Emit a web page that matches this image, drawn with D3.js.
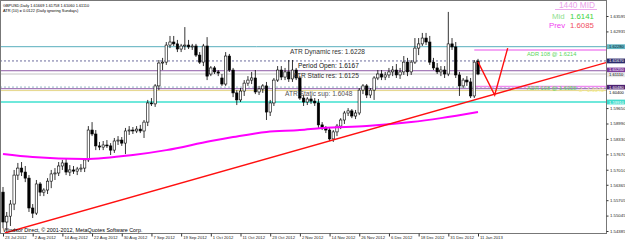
<!DOCTYPE html>
<html>
<head>
<meta charset="utf-8">
<script src="https://cdn.jsdelivr.net/npm/d3@7"></script>
<style>
  body { margin: 0; background: #fff; }
  svg { display: block; font-family: "Liberation Sans", Arial, sans-serif; }
</style>
</head>
<body>
<div id="chart"></div>
<script>
// daily GBPUSD bars, 23 Jul 2012 .. 11 Jan 2013
const opens = [1.5605,1.5477,1.5502,1.5554,1.5678,1.5708,1.5691,1.5665,1.5537,1.5515,
  1.5640,1.5605,1.5614,1.5652,1.5683,1.5687,1.5717,1.5730,1.5691,1.5700,
  1.5695,1.5704,1.5708,1.5743,1.5871,1.5854,1.5803,1.5798,1.5807,1.5803,
  1.5785,1.5824,1.5828,1.5815,1.5867,1.5871,1.5867,1.5875,1.5867,1.5905,
  1.5987,1.5983,1.6060,1.6158,1.6162,1.6235,1.6248,1.6240,1.6218,1.6231,
  1.6235,1.6227,1.6231,1.6192,1.6162,1.6231,1.6111,1.6137,1.6120,1.6094,
  1.6068,1.6188,1.6128,1.6030,1.6000,1.6038,1.6072,1.6085,1.6094,1.6034,
  1.6047,1.6060,1.5948,1.5987,1.6085,1.6128,1.6098,1.6120,1.6090,1.6128,
  1.6094,1.6008,1.5991,1.6004,1.5995,1.5987,1.5893,1.5880,1.5871,1.5833,
  1.5863,1.5888,1.5914,1.5944,1.5953,1.5931,1.5944,1.6042,1.6060,1.6021,
  1.6042,1.6094,1.6111,1.6098,1.6107,1.6120,1.6128,1.6107,1.6120,1.6162,
  1.6120,1.6162,1.6222,1.6240,1.6265,1.6248,1.6162,1.6137,1.6120,1.6128,
  1.6111,1.6240,1.6227,1.6107,1.6060,1.6085,1.6077,1.6017,1.61669];
const highs = [1.5627,1.5520,1.5571,1.5700,1.5730,1.5734,1.5717,1.5678,1.5554,1.5657,
  1.5648,1.5622,1.5665,1.5700,1.5708,1.5734,1.5743,1.5751,1.5721,1.5717,
  1.5713,1.5725,1.5751,1.5888,1.5905,1.5871,1.5820,1.5824,1.5828,1.5815,
  1.5837,1.5845,1.5841,1.5880,1.5888,1.5884,1.5888,1.5893,1.5914,1.6000,
  1.6008,1.6068,1.6171,1.6180,1.6248,1.6274,1.6274,1.6257,1.6240,1.6312,
  1.6257,1.6240,1.6240,1.6205,1.6240,1.6269,1.6145,1.6145,1.6128,1.6111,
  1.6205,1.6197,1.6137,1.6042,1.6051,1.6085,1.6102,1.6120,1.6128,1.6060,
  1.6068,1.6077,1.6000,1.6094,1.6145,1.6145,1.6137,1.6171,1.6171,1.6137,
  1.6102,1.6021,1.6012,1.6017,1.6008,1.6004,1.5905,1.5888,1.5880,1.5871,
  1.5897,1.5922,1.5953,1.5965,1.5961,1.5957,1.6051,1.6068,1.6068,1.6051,
  1.6102,1.6128,1.6128,1.6120,1.6137,1.6145,1.6154,1.6137,1.6188,1.6180,
  1.6171,1.6265,1.6265,1.6287,1.6287,1.6274,1.6180,1.6158,1.6145,1.6145,
  1.6377,1.6265,1.6248,1.6120,1.6094,1.6102,1.6094,1.6171,1.61758];
const lows = [1.5451,1.5443,1.5460,1.5528,1.5657,1.5674,1.5648,1.5520,1.5494,1.5507,
  1.5588,1.5588,1.5597,1.5622,1.5657,1.5674,1.5700,1.5678,1.5674,1.5683,
  1.5678,1.5691,1.5691,1.5734,1.5845,1.5785,1.5785,1.5785,1.5794,1.5764,
  1.5773,1.5807,1.5803,1.5768,1.5850,1.5854,1.5858,1.5858,1.5837,1.5888,
  1.5974,1.5970,1.6042,1.6128,1.6150,1.6222,1.6231,1.6205,1.6205,1.6214,
  1.6218,1.6214,1.6184,1.6154,1.6145,1.6085,1.6102,1.6111,1.6102,1.6060,
  1.6060,1.6120,1.6012,1.5978,1.5991,1.6017,1.6060,1.6068,1.6025,1.6021,
  1.6030,1.5914,1.5931,1.5974,1.6077,1.6085,1.6085,1.6077,1.6077,1.6085,
  1.6000,1.5974,1.5978,1.5983,1.5974,1.5880,1.5871,1.5858,1.5824,1.5820,
  1.5845,1.5875,1.5897,1.5931,1.5922,1.5918,1.5935,1.6025,1.6008,1.6008,
  1.6000,1.6085,1.6085,1.6085,1.6094,1.6102,1.6094,1.6090,1.6107,1.6102,
  1.6107,1.6154,1.6192,1.6231,1.6235,1.6150,1.6128,1.6111,1.6102,1.6094,
  1.6102,1.6214,1.6094,1.6017,1.6051,1.6060,1.6008,1.6008,1.61060];
const closes = [1.5477,1.5502,1.5554,1.5678,1.5708,1.5691,1.5665,1.5537,1.5515,1.5640,
  1.5605,1.5614,1.5652,1.5683,1.5687,1.5717,1.5730,1.5691,1.5700,1.5695,
  1.5704,1.5708,1.5743,1.5871,1.5854,1.5803,1.5798,1.5807,1.5803,1.5785,
  1.5824,1.5828,1.5815,1.5867,1.5871,1.5867,1.5875,1.5867,1.5905,1.5987,
  1.5983,1.6060,1.6158,1.6162,1.6235,1.6248,1.6240,1.6218,1.6231,1.6235,
  1.6227,1.6231,1.6192,1.6162,1.6231,1.6102,1.6137,1.6120,1.6115,1.6068,
  1.6188,1.6128,1.6030,1.6000,1.6038,1.6072,1.6085,1.6094,1.6034,1.6047,
  1.6060,1.5948,1.5987,1.6085,1.6128,1.6098,1.6120,1.6090,1.6128,1.6094,
  1.6008,1.5991,1.6004,1.5995,1.5987,1.5893,1.5880,1.5871,1.5833,1.5863,
  1.5888,1.5914,1.5944,1.5953,1.5931,1.5944,1.6042,1.6060,1.6021,1.6042,
  1.6094,1.6111,1.6098,1.6107,1.6120,1.6128,1.6107,1.6120,1.6162,1.6120,
  1.6162,1.6222,1.6240,1.6265,1.6248,1.6162,1.6137,1.6120,1.6128,1.6111,
  1.6240,1.6227,1.6107,1.6060,1.6085,1.6077,1.6017,1.6162,1.61110];

const dateLabels = ['23 Jul 2012','2 Aug 2012','14 Aug 2012','22 Aug 2012','30 Aug 2012','7 Sep 2012',
  '19 Sep 2012','1 Oct 2012','11 Oct 2012','23 Oct 2012','2 Nov 2012','14 Nov 2012',
  '26 Nov 2012','6 Dec 2012','18 Dec 2012','31 Dec 2012','11 Jan 2013'];
const dateIdx = [0,8,16,24,32,40,48,56,64,72,80,88,96,104,112,120,128];
const priceTicks = ['1.63595','1.62935','1.62275','1.61615','1.60955','1.60295','1.59650','1.58990',
  '1.58330','1.57670','1.57010','1.56365','1.55705','1.55045','1.54385'];

// moving average (magenta)
const maIdx = [0,8,22,35,44,56,62,71,80,86,98,110,118,128];
const maVals = [1.5768,1.5755,1.5747,1.5764,1.5785,1.5824,1.5841,1.5863,1.5871,1.5880,1.5888,1.5905,1.5922,1.5948];

// horizontal levels
const levelNames = ['ATR Dynamic res','Period Open','ATR Static res','Bid','Prev level','ATR Static sup','Yellow level','ATR Dynamic sup'];
const levelValues = [1.6228,1.6167,1.6125,1.6111,1.6055,1.6048,1.6040,1.5991];
const adrValues = [1.6214,1.6058];
const adrStart = 127;
const trendIdx = [0.5,162.5];
const trendVals = [1.5430,1.6160];
const projIdx = [128,132.5,136];
const projVals = [1.6163,1.6021,1.6222];
const tagValues = [1.6228,1.6167,1.6125,1.6111,1.6048,1.6040,1.5991];
const midValue = 1.6141;
const prevValue = 1.6085;
const atrValue = 0.0122;

const W = 625, H = 241, plotR = 606, plotB = 233;

const x = d3.scaleLinear().domain([0, 128]).range([3, 478]);
const y = d3.scaleLinear().domain([1.54385, 1.63595]).range([231, 16]);
const f4 = d3.format('.4f');

const svg = d3.select('#chart').append('svg')
  .attr('width', W)
  .attr('height', H);

svg.append('defs').append('clipPath').attr('id', 'plot')
  .append('rect').attr('x', 0).attr('y', 0).attr('width', plotR).attr('height', plotB);

const plot = svg.append('g').attr('clip-path', 'url(#plot)');

// level lines
const levelStyle = [
  { c: '#58aebd', w: 1, dash: null },
  { c: '#6b6b9e', w: 1, dash: '2,2' },
  { c: '#8e5aa6', w: 1, dash: null },
  { c: '#c4c4c4', w: 1, dash: null },
  { c: '#7aa6b6', w: 0.8, dash: '2,2' },
  { c: '#8e5aa6', w: 1, dash: null },
  { c: '#e6d68a', w: 1, dash: null },
  { c: '#3fe0cf', w: 1.4, dash: null },
];
plot.selectAll('.level')
  .data(levelValues)
  .enter().append('line')
  .attr('class', 'level')
  .attr('x1', 0).attr('x2', plotR)
  .attr('y1', (d) => y(d)).attr('y2', (d) => y(d))
  .style('stroke', (d, i) => levelStyle[i].c)
  .style('stroke-width', (d, i) => levelStyle[i].w)
  .style('stroke-dasharray', (d, i) => levelStyle[i].dash);

// ADR lines
plot.selectAll('.adr')
  .data(adrValues)
  .enter().append('line')
  .attr('class', 'adr')
  .attr('x1', x(adrStart)).attr('x2', plotR)
  .attr('y1', (d) => y(d)).attr('y2', (d) => y(d))
  .style('stroke', '#f08af0')
  .style('stroke-width', 1.5);

// candles
const bars = d3.range(opens.length);
plot.selectAll('.wick')
  .data(bars)
  .enter().append('line')
  .attr('class', 'wick')
  .attr('x1', (i) => x(i)).attr('x2', (i) => x(i))
  .attr('y1', (i) => y(highs[i])).attr('y2', (i) => y(lows[i]))
  .style('stroke', '#000')
  .style('stroke-width', 0.8);

plot.selectAll('.body')
  .data(bars)
  .enter().append('rect')
  .attr('class', 'body')
  .attr('x', (i) => x(i) - 1.2)
  .attr('width', 2.4)
  .attr('y', (i) => y(Math.max(opens[i], closes[i])))
  .attr('height', (i) => Math.max(0.8, Math.abs(y(opens[i]) - y(closes[i]))))
  .style('fill', (i) => (closes[i] >= opens[i] ? '#fff' : '#000'))
  .style('stroke', '#000')
  .style('stroke-width', 0.6);

// moving average
plot.append('path')
  .datum(maIdx.map((d, i) => [d, maVals[i]]))
  .attr('d', d3.line().x((d) => x(d[0])).y((d) => y(d[1])).curve(d3.curveMonotoneX))
  .style('fill', 'none')
  .style('stroke', '#ff00ff')
  .style('stroke-width', 2);

// trend line + projection
plot.append('path')
  .datum(trendIdx.map((d, i) => [d, trendVals[i]]))
  .attr('d', d3.line().x((d) => x(d[0])).y((d) => y(d[1])))
  .style('fill', 'none').style('stroke', '#ff1010').style('stroke-width', 1.4);
plot.append('path')
  .datum(projIdx.map((d, i) => [d, projVals[i]]))
  .attr('d', d3.line().x((d) => x(d[0])).y((d) => y(d[1])))
  .style('fill', 'none').style('stroke', '#ff1010').style('stroke-width', 1.4);

// level texts
const levelText = [
  { t: `ATR Dynamic res: ${f4(levelValues[0])}`, x: 290, v: levelValues[0], c: '#333' },
  { t: `Period Open: ${f4(levelValues[1])}`, x: 298, v: levelValues[1], c: '#111' },
  { t: `ATR Static res: ${f4(levelValues[2])}`, x: 293, v: levelValues[2], c: '#333' },
  { t: `ATR Static sup: ${f4(levelValues[5])}`, x: 285, v: levelValues[5], c: '#555' },
];
plot.selectAll('.ltxt')
  .data(levelText)
  .enter().append('text')
  .attr('class', 'ltxt')
  .attr('x', (d) => d.x)
  .attr('y', (d) => y(d.v) + 7.3)
  .attr('font-size', 6.6)
  .attr('fill', (d) => d.c)
  .text((d) => d.t);

// the yellow level's label mostly sits under the axis, only its tail shows
plot.append('text')
  .attr('x', 579).attr('y', y(levelValues[6]) + 1.5)
  .attr('font-size', 5.6)
  .attr('fill', '#f4f08a')
  .text(`d - ${f4(levelValues[6])}`);

plot.selectAll('.adrtxt')
  .data(adrValues)
  .enter().append('text')
  .attr('class', 'adrtxt')
  .attr('x', 527)
  .attr('y', (d) => y(d) + (d > 1.61 ? 6 : 3.5))
  .attr('font-size', 5.7)
  .attr('fill', '#5ad65a')
  .text((d) => `ADR 108 @ ${f4(d)}`);

// top-left header
const last = opens.length - 1;
svg.append('text').attr('x', 3).attr('y', 7).attr('font-size', 3.9).attr('fill', '#000')
  .text(`GBPUSD,Daily  ${opens[last].toFixed(5)} ${highs[last].toFixed(5)} ${lows[last].toFixed(5)} ${closes[last].toFixed(5)}`);
svg.append('text').attr('x', 3).attr('y', 12).attr('font-size', 3.9).attr('fill', '#000')
  .text(`ATR (10) = ${f4(atrValue)} (Daily ignoring Sundays)`);

// top-right mid box
svg.append('text').attr('x', 559).attr('y', 8).attr('font-size', 8.3).attr('fill', '#eaa2ea').text('1440 MID');
svg.append('line').attr('x1', 555).attr('x2', 597).attr('y1', 9.5).attr('y2', 9.5)
  .style('stroke', '#eeaaee').style('stroke-width', 1);
svg.append('text').attr('x', 552).attr('y', 19).attr('font-size', 7.8).attr('fill', '#8ee08e').text('Mid');
svg.append('text').attr('x', 570).attr('y', 19).attr('font-size', 7.8).attr('fill', '#3ed43e').text(f4(midValue));
svg.append('text').attr('x', 549).attr('y', 27.5).attr('font-size', 7.8).attr('fill', '#f040f0').text('Prev');
svg.append('text').attr('x', 570).attr('y', 27.5).attr('font-size', 7.8).attr('fill', '#f05060').text(f4(prevValue));

// copyright
svg.append('text').attr('x', 3).attr('y', 231.5).attr('font-size', 5.4).attr('fill', '#000')
  .text('Windsor Direct, \u00a9 2001-2012, MetaQuotes Software Corp.');

// frame
svg.append('rect').attr('x', 0.5).attr('y', 0.5).attr('width', plotR).attr('height', plotB)
  .style('fill', 'none').style('stroke', '#777').style('stroke-width', 1);

// price tags: nudge apart so stacked tags don't sit on each other
const tagH = 4.8;
const tagY = tagValues.map((d) => y(d));
for (let k = 0; k < 3; k++) {
  for (let i = 1; i < tagY.length; i++) {
    const gap = tagY[i] - tagY[i - 1];
    if (gap < tagH) {
      const push = (tagH - gap) / 2;
      tagY[i - 1] -= push;
      tagY[i] += push;
    }
  }
}

// y axis (right) - labels hidden under a tag are dropped, like the terminal does
const shownTicks = priceTicks.filter((t) => tagY.every((ty) => Math.abs(y(+t) - ty) > 5));
const yAxis = svg.append('g')
  .attr('transform', `translate(${plotR + 0.5},0)`)
  .call(d3.axisRight(y)
    .tickValues(shownTicks.map(Number))
    .tickFormat((d, i) => shownTicks[i])
    .tickSize(2)
    .tickPadding(1.5))
  .attr('font-size', 4.3)
  .attr('font-family', '"Liberation Sans", Arial, sans-serif');
yAxis.select('.domain').remove();
yAxis.selectAll('line').style('stroke', '#333');
yAxis.selectAll('text').attr('fill', '#222');

const tagStyle = [
  { bg: '#62b6c2', fg: '#0a2030' },
  { bg: '#2c2c6c', fg: '#fff' },
  { bg: '#7c3c9c', fg: '#fff' },
  { bg: '#e8e8e8', fg: '#000' },
  { bg: '#4c2070', fg: '#fff' },
  { bg: '#fff', fg: '#000' },
  { bg: '#40dccc', fg: '#fff' },
];
const tags = svg.selectAll('.tag')
  .data(tagValues)
  .enter().append('g')
  .attr('class', 'tag')
  .attr('transform', (d, i) => `translate(${plotR + 1},${tagY[i]})`);
tags.append('rect')
  .attr('x', 0).attr('y', -tagH / 2).attr('width', 19).attr('height', tagH)
  .style('fill', (d, i) => tagStyle[i].bg);
tags.append('text')
  .attr('x', 2).attr('y', 1.5)
  .attr('font-size', 4.1)
  .attr('fill', (d, i) => tagStyle[i].fg)
  .text((d) => d.toFixed(5));

// x axis
const xAxis = svg.append('g')
  .attr('transform', `translate(0,${plotB + 0.5})`)
  .call(d3.axisBottom(x)
    .tickValues(dateIdx)
    .tickFormat((d, i) => dateLabels[i])
    .tickSize(3)
    .tickPadding(0))
  .attr('font-size', 4.2)
  .attr('font-family', '"Liberation Sans", Arial, sans-serif');
xAxis.select('.domain').remove();
xAxis.selectAll('line').style('stroke', '#333');
xAxis.selectAll('text').attr('text-anchor', 'start').attr('x', 1.5).attr('fill', '#222');
</script>
</body>
</html>
